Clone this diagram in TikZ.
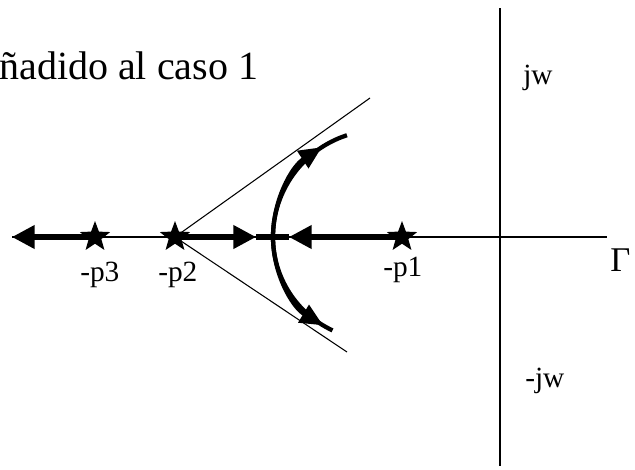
\documentclass[tikz,border=0pt]{standalone}
\usepackage{fontspec}
\setmainfont{Liberation Serif}
\usetikzlibrary{arrows.meta,shapes.geometric}

\begin{document}
\begin{tikzpicture}[x=0.75pt, y=-0.75pt]
  \tikzstyle{polo}=[star, star points=5, star point ratio=2.4, fill=black, draw=none, inner sep=0pt, minimum size=24pt]
  \tikzstyle{rama}=[line width=3.8pt]
  \tikzstyle{curva}=[line width=3.2pt]
  \tikzstyle{eje}=[line width=0.8pt]
  \tikzstyle{lab}=[font=\fontsize{22}{24}\selectfont, anchor=base west, inner sep=0pt]
  \tikzset{punta/.style={-{Triangle[length=17pt, width=17pt]}},
           puntac/.style={-{Triangle[length=17pt, width=15pt]}}}

  \useasboundingbox (0,0) rectangle (635,469);

  % ejes del plano s
  \coordinate (izq) at (12,237);
  \coordinate (der) at (607,237);
  \coordinate (arr) at (500,8);
  \coordinate (aba) at (500,466);
  \draw[eje] (izq) -- (der);
  \draw[eje] (arr) -- (aba);

  % polos en lazo abierto
  \node[polo] (p3) at (95,237) {};
  \node[polo] (p2) at (175,237) {};
  \node[polo] (p1) at (402,237) {};

  % asintotas desde -p2
  \coordinate (asup) at (370,98);
  \coordinate (ainf) at (347,352);
  \draw[eje] (p2.center) -- (asup);
  \draw[eje] (p2.center) -- (ainf);

  % ramas sobre el eje real
  \coordinate (fder) at (256,237);
  \coordinate (fizq) at (289,237);
  \draw[rama, punta] (p3.center) -- (izq);
  \draw[rama, punta] (p2.center) -- (fder);
  \draw[rama] (fder) -- (fizq);
  \draw[rama, punta] (p1.center) -- (fizq);

  % ramas complejas tras el punto de ruptura
  \coordinate (brk) at (273,237);
  \draw[curva, puntac] (brk) arc[start angle=180, end angle=237, radius=107];
  \draw[curva] (brk) arc[start angle=180, end angle=252, radius=107];
  \draw[curva, puntac] (brk) arc[start angle=180, end angle=121, radius=103];
  \draw[curva] (brk) arc[start angle=180, end angle=115, radius=103];

  % textos
  \node[font=\fontsize{30}{32}\selectfont, anchor=base west, inner sep=0pt] (tit) at (-1,79) {ñadido al caso 1};
  \node[lab] (lp3) at (80,281) {-p3};
  \node[lab] (lp2) at (158,281) {-p2};
  \node[lab] (lp1) at (383,276) {-p1};
  \node[lab] (ljw) at (523,84) {jw};
  \node[lab] (lmjw) at (525,387) {-jw};
  \node[font=\fontsize{26}{28}\selectfont, anchor=base west, inner sep=0pt] (lsig) at (610,271) {Γ};
\end{tikzpicture}
\end{document}
